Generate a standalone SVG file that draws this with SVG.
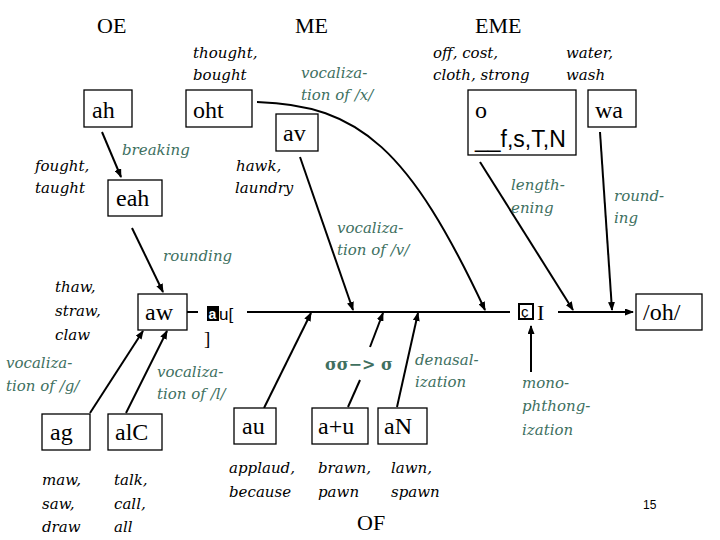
<svg xmlns="http://www.w3.org/2000/svg" width="720" height="540" viewBox="0 0 720 540">
<style>
.box{fill:#fff;stroke:#000;stroke-width:1.3}
.bt{font-family:"Liberation Serif",serif;font-size:24px;fill:#000}
.title{font-family:"Liberation Serif",serif;font-size:22px;fill:#000}
.ex{font-family:"DejaVu Serif",serif;font-style:italic;font-size:15px;fill:#000}
.gl{font-family:"DejaVu Serif",serif;font-style:italic;font-size:15px;fill:#40705f}
.ln{fill:none;stroke:#000;stroke-width:2}
.arr{fill:none;stroke:#000;stroke-width:2;marker-end:url(#ah)}
</style>
<defs>
<marker id="ah" markerUnits="userSpaceOnUse" markerWidth="9" markerHeight="7" refX="8" refY="3.5" orient="auto">
<path d="M0,0 L9,3.5 L0,7 z" fill="#000"/>
</marker>
</defs>
<rect width="720" height="540" fill="#fff"/>

<g id="titles">
<text class="title" x="97" y="33">OE</text>
<text class="title" x="295" y="33">ME</text>
<text class="title" x="475" y="33">EME</text>
</g>

<g id="connectors">
<line class="arr" x1="102" y1="132" x2="121" y2="177"/>
<line class="arr" x1="132" y1="228" x2="163" y2="292"/>
<line class="arr" x1="300" y1="157" x2="353" y2="310"/>
<path class="arr" d="M257,102 C360,105 410,150 485,310"/>
<line class="arr" x1="480" y1="162" x2="573" y2="310"/>
<line class="arr" x1="600" y1="132" x2="612" y2="310"/>
<line class="ln" x1="187" y1="312" x2="198" y2="312"/>
<line class="ln" x1="247" y1="312" x2="510" y2="312"/>
<line class="arr" x1="558" y1="312" x2="633" y2="312"/>
<line class="arr" x1="531" y1="372" x2="531" y2="326"/>
<line class="arr" x1="90" y1="413" x2="143" y2="331"/>
<line class="arr" x1="126" y1="413" x2="167" y2="331"/>
<line class="arr" x1="264" y1="408" x2="311" y2="313"/>
<line class="ln" x1="348" y1="407" x2="360" y2="380"/>
<line class="arr" x1="370" y1="347" x2="383" y2="313"/>
<line class="arr" x1="397" y1="407" x2="418" y2="313"/>
</g>

<g id="node-ah"><rect class="box" x="84" y="90" width="48" height="37"/><text class="bt" x="92" y="118">ah</text></g>
<g id="node-oht"><rect class="box" x="186" y="90" width="66" height="37"/><text class="bt" x="193" y="118">oht</text></g>
<g id="node-av"><rect class="box" x="276" y="114" width="42" height="37"/><text class="bt" x="283" y="141">av</text></g>
<g id="node-eah"><rect class="box" x="108" y="180" width="54" height="36"/><text class="bt" x="116" y="206">eah</text></g>
<g id="node-aw"><rect class="box" x="138" y="294" width="49" height="36"/><text class="bt" x="145" y="320">aw</text></g>
<g id="node-o"><rect class="box" x="468" y="90" width="108" height="65"/><text class="bt" x="475" y="118">o</text><text x="475" y="147" font-family="Liberation Sans, sans-serif" font-size="23" fill="#000">__f,s,T,N</text></g>
<g id="node-wa"><rect class="box" x="588" y="90" width="48" height="37"/><text class="bt" x="595" y="118">wa</text></g>
<g id="node-oh"><rect class="box" x="636" y="294" width="66" height="36"/><text class="bt" x="643" y="320">/oh/</text></g>
<g id="node-ag"><rect class="box" x="42" y="414" width="48" height="36"/><text class="bt" x="50" y="440">ag</text></g>
<g id="node-alC"><rect class="box" x="108" y="414" width="54" height="36"/><text class="bt" x="115" y="440">alC</text></g>
<g id="node-au"><rect class="box" x="234" y="408" width="42" height="36"/><text class="bt" x="242" y="434">au</text></g>
<g id="node-aplusu"><rect class="box" x="312" y="408" width="56" height="36"/><text class="bt" x="318" y="434">a+u</text></g>
<g id="node-aN"><rect class="box" x="378" y="408" width="49" height="36"/><text class="bt" x="384" y="434">aN</text></g>

<g id="node-au-ipa">
<rect x="207" y="306" width="12" height="15" fill="#000"/>
<text x="208.5" y="319" font-family="Liberation Sans, sans-serif" font-weight="bold" font-size="14" fill="#fff">a</text>
<text x="219" y="320" font-family="Liberation Sans, sans-serif" font-size="17" fill="#000">u[</text>
<text x="204" y="345" font-family="Liberation Serif, serif" font-size="19" fill="#000">]</text>
</g>
<g id="node-oi-ipa">
<rect x="519" y="304" width="14" height="15" fill="none" stroke="#000" stroke-width="2"/>
<text x="521" y="317" font-family="Liberation Sans, sans-serif" font-size="15" fill="#000">ç</text>
<text x="537" y="320" font-family="Liberation Serif, serif" font-size="22" fill="#000">I</text>
</g>

<g id="examples">
<text class="ex" x="193" y="58">thought,</text>
<text class="ex" x="193" y="80">bought</text>
<text class="ex" x="35" y="171">fought,</text>
<text class="ex" x="35" y="193">taught</text>
<text class="ex" x="236" y="171">hawk,</text>
<text class="ex" x="235" y="193">laundry</text>
<text class="ex" x="433" y="58">off, cost,</text>
<text class="ex" x="433" y="80">cloth, strong</text>
<text class="ex" x="566" y="58">water,</text>
<text class="ex" x="566" y="80">wash</text>
<text class="ex" x="55" y="292">thaw,</text>
<text class="ex" x="55" y="316">straw,</text>
<text class="ex" x="55" y="340">claw</text>
<text class="ex" x="42" y="485">maw,</text>
<text class="ex" x="42" y="509">saw,</text>
<text class="ex" x="42" y="532">draw</text>
<text class="ex" x="114" y="485">talk,</text>
<text class="ex" x="114" y="509">call,</text>
<text class="ex" x="114" y="532">all</text>
<text class="ex" x="229" y="473">applaud,</text>
<text class="ex" x="229" y="497">because</text>
<text class="ex" x="318" y="473">brawn,</text>
<text class="ex" x="318" y="497">pawn</text>
<text class="ex" x="391" y="473">lawn,</text>
<text class="ex" x="391" y="497">spawn</text>
<text class="title" x="357" y="530">OF</text>
<text x="643" y="509" font-family="Liberation Sans, sans-serif" font-size="12" fill="#000">15</text>
</g>

<g id="labels">
<text class="gl" x="301" y="78">vocaliza-</text>
<text class="gl" x="301" y="100">tion of /x/</text>
<text class="gl" x="122" y="155">breaking</text>
<text class="gl" x="163" y="261">rounding</text>
<text class="gl" x="337" y="233">vocaliza-</text>
<text class="gl" x="337" y="255">tion of /v/</text>
<text class="gl" x="511" y="190">length-</text>
<text class="gl" x="511" y="213">ening</text>
<text class="gl" x="614" y="201">round-</text>
<text class="gl" x="614" y="223">ing</text>
<text class="gl" x="6" y="368">vocaliza-</text>
<text class="gl" x="6" y="391">tion of /g/</text>
<text class="gl" x="157" y="377">vocaliza-</text>
<text class="gl" x="157" y="399">tion of /l/</text>
<text x="325" y="370" font-family="DejaVu Serif, serif" font-weight="bold" font-size="16" fill="#40705f">σσ−&gt; σ</text>
<text class="gl" x="415" y="365">denasal-</text>
<text class="gl" x="415" y="387">ization</text>
<text class="gl" x="522" y="388">mono-</text>
<text class="gl" x="522" y="411">phthong-</text>
<text class="gl" x="522" y="435">ization</text>
</g>
</svg>
